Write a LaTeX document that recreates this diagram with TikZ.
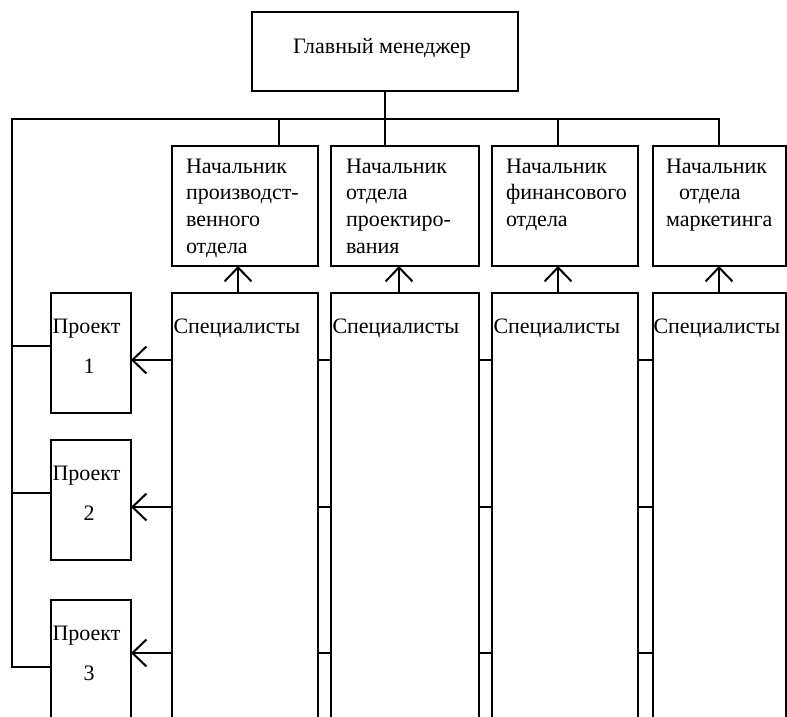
\documentclass[tikz,border=0pt]{standalone}
\usepackage{fontspec}
\setmainfont{Liberation Serif}
\usetikzlibrary{arrows.meta}
\begin{document}
\begin{tikzpicture}[x=1pt,y=-1pt,line width=2pt,
  box/.style={draw,line width=2pt,outer sep=0pt,inner sep=0pt,anchor=north west},
  lbl/.style={inner sep=0pt,outer sep=0pt,anchor=base west,align=left,font=\fontsize{22}{26.7}\selectfont},
  barb/.style={-{Straight Barb[length=14pt,width=27pt,line width=2pt]}}]
\useasboundingbox (0,0) rectangle (787,717);
\clip (0,0) rectangle (787,717);
% boxes
\node[box,minimum width=266pt,minimum height=79pt] (gm) at (252,12) {};
\node[box,minimum width=146pt,minimum height=120pt] (h1) at (172,146) {};
\node[box,minimum width=148pt,minimum height=120pt] (h2) at (331,146) {};
\node[box,minimum width=146pt,minimum height=120pt] (h3) at (492,146) {};
\node[box,minimum width=133pt,minimum height=120pt] (h4) at (653,146) {};
\node[box,minimum width=146pt,minimum height=500pt] (s1) at (172,293) {};
\node[box,minimum width=148pt,minimum height=500pt] (s2) at (331,293) {};
\node[box,minimum width=146pt,minimum height=500pt] (s3) at (492,293) {};
\node[box,minimum width=133pt,minimum height=500pt] (s4) at (653,293) {};
\node[box,minimum width=80pt,minimum height=120pt] (p1) at (51,293) {};
\node[box,minimum width=80pt,minimum height=120pt] (p2) at (51,440) {};
\node[box,minimum width=80pt,minimum height=200pt] (p3) at (51,600) {};
% texts (base anchor = baseline of the last line)
\node[lbl,anchor=base] (tgm) at (382,54) {Главный менеджер};
\node[lbl] (th1) at (186,253.1) {Начальник\\производст-\\венного\\отдела};
\node[lbl] (th2) at (346,253.1) {Начальник\\отдела\\проектиро-\\вания};
\node[lbl] (th3) at (506,226.4) {Начальник\\финансового\\отдела};
\node[lbl] (th4) at (666,226.4) {Начальник\\\hspace*{13pt}отдела\\маркетинга};
\node[lbl] (ts1) at (173.5,333) {Специалисты};
\node[lbl] (ts2) at (332.5,333) {Специалисты};
\node[lbl] (ts3) at (493.5,333) {Специалисты};
\node[lbl] (ts4) at (653.5,333) {Специалисты};
\node[lbl] (tp1) at (52.5,333) {Проект};
\node[lbl,anchor=base] (tn1) at (89,373) {1};
\node[lbl] (tp2) at (52.5,480) {Проект};
\node[lbl,anchor=base] (tn2) at (89,520) {2};
\node[lbl] (tp3) at (52.5,640) {Проект};
\node[lbl,anchor=base] (tn3) at (89,680) {3};
% coordinates
\coordinate (busL) at (12,119);
\coordinate (busR) at (719,119);
\coordinate (d1) at (279,119);
\coordinate (d3) at (558,119);
\coordinate (j1) at (12,346);
\coordinate (j2) at (12,493);
\coordinate (j3) at (12,667);
\coordinate (r1) at (0,360);
\coordinate (r2) at (0,507);
\coordinate (r3) at (0,653);
\coordinate (a1) at (238,0);
\coordinate (a2) at (399,0);
\coordinate (a3) at (558,0);
\coordinate (a4) at (719,0);
% tree
\draw (gm.south) -- (gm.south |- h2.north);
\draw (busR |- h4.north) -- (busR) -- (busL) -- (j3) -- (j3 -| p3.west);
\draw (d1) -- (d1 |- h1.north);
\draw (d3) -- (d3 |- h3.north);
\draw (j1) -- (j1 -| p1.west);
\draw (j2) -- (j2 -| p2.west);
% arrows to heads
\draw[barb] (s1.north -| a1) -- (h1.south -| a1);
\draw[barb] (s2.north -| a2) -- (h2.south -| a2);
\draw[barb] (s3.north -| a3) -- (h3.south -| a3);
\draw[barb] (s4.north -| a4) -- (h4.south -| a4);
% arrows to projects
\draw[barb] (s1.west |- r1) -- (p1.east |- r1);
\draw[barb] (s1.west |- r2) -- (p2.east |- r2);
\draw[barb] (s1.west |- r3) -- (p3.east |- r3);
% links between specialists
\foreach \r in {r1,r2,r3}{
  \draw (s1.east |- \r) -- (s2.west |- \r);
  \draw (s2.east |- \r) -- (s3.west |- \r);
  \draw (s3.east |- \r) -- (s4.west |- \r);
}
\end{tikzpicture}
\end{document}
